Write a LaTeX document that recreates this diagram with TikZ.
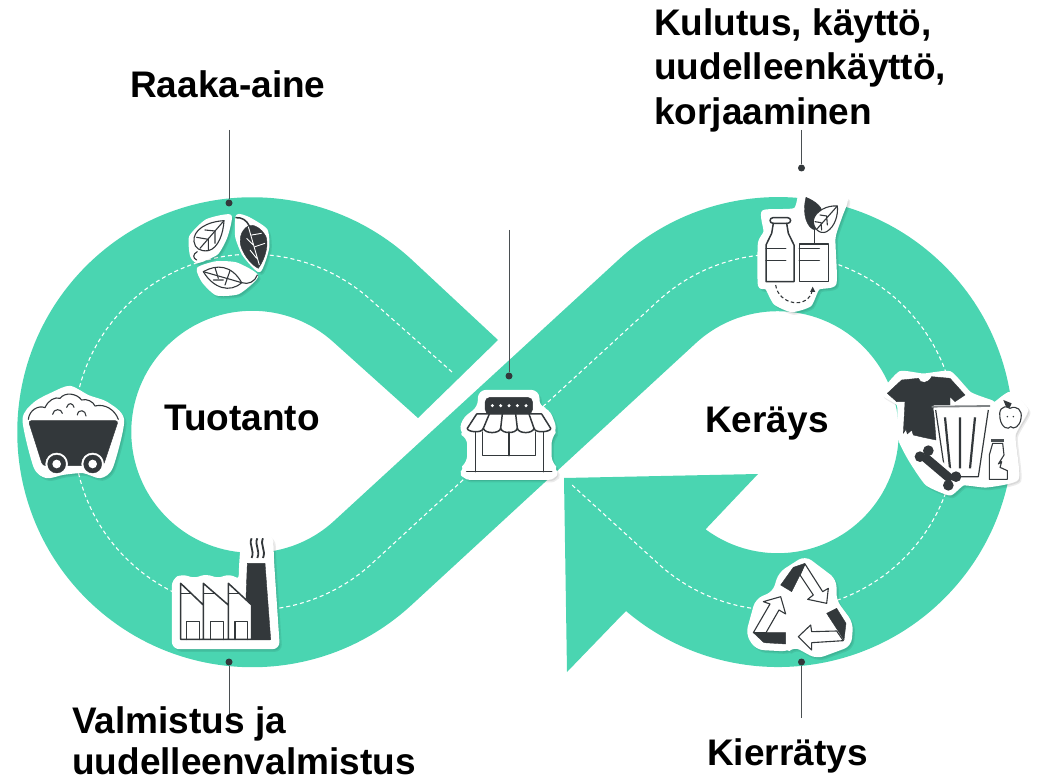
\documentclass[tikz,border=0pt]{standalone}
\usepackage{fontspec}
\setmainfont{Liberation Sans}
\definecolor{band}{HTML}{4AD5B1}
\definecolor{ink}{HTML}{33383B}
\definecolor{lead}{HTML}{4A4F52}
\tikzset{
  platest/.style={fill=white,draw=white,line width=3pt,line join=round},
  shadowst/.style={fill=black,draw=black,line width=3pt,line join=round,opacity=0.08},
  thinline/.style={draw=ink,line width=1.1pt,line join=round,line cap=round},
  midline/.style={draw=ink,line width=1.5pt,line join=round,line cap=round},
  darkfill/.style={fill=ink,draw=ink,line width=0.4pt,line join=round},
  label/.style={font=\bfseries\fontsize{37}{44}\selectfont,text=black,inner sep=0pt,anchor=base west},
  dotnode/.style={circle,fill=ink,draw=none,minimum size=7pt,inner sep=0pt},
  leader/.style={draw=lead,line width=1pt},
  centerdash/.style={draw=white,line width=1.1pt,dash pattern=on 4pt off 3pt}
}
\newcommand{\plated}[1]{\path[shadowst,shift={(7,8)}] #1; \path[platest] #1;}
\begin{document}
\begin{tikzpicture}[x=1pt,y=1pt,yscale=-1]
\useasboundingbox (0,0) rectangle (1039,783);
% band
\fill[band] (498,340) -- (411,259)
  arc[start angle=312.5,end angle=47.5,radius=235]
  -- (696,343)
  arc[start angle=227.5,end angle=486.9,radius=121]
  -- (703,532) -- (758,474) -- (564,478) -- (567,672) -- (623,614) -- (626,611)
  arc[start angle=130.4,end angle=-132.5,radius=235]
  -- (334,521)
  arc[start angle=47.5,end angle=312.5,radius=121]
  -- (418,418) -- cycle;
% dashed centre line
\draw[centerdash] (452,372) -- (372,301)
  arc[start angle=312.5,end angle=47.5,radius=178]
  -- (658,301)
  arc[start angle=227.5,end angle=492.5,radius=178]
  -- (572,485);
% ---- leaves
\begin{scope}[shift={(0,180)},scale=1/3]
\plated{plot[smooth cycle,tension=.35] coordinates{(690,108) (620,122) (572,170) (574,225) (592,245) (650,220) (678,170)}}
\plated{plot[smooth cycle,tension=.35] coordinates{(712,108) (745,115) (798,150) (803,205) (778,272) (732,225) (710,170)}}
\plated{plot[smooth cycle,tension=.35] coordinates{(595,266) (650,248) (710,252) (770,288) (715,338) (650,342) (610,305)}}
\draw[thinline] (672,122) .. controls (620,125) and (578,150) .. (582,185) .. controls (585,205) and (600,215) .. (625,212) .. controls (655,205) and (670,160) .. (672,122) -- cycle;
\draw[thinline] (672,122) -- (600,205) (592,215) .. controls (578,222) and (578,235) .. (590,240);
\draw[thinline] (645,153) -- (615,150) (625,178) -- (590,172) (645,153) -- (645,190) (625,178) -- (625,210);
\path[darkfill] (775,265) .. controls (800,230) and (805,190) .. (798,170) .. controls (785,145) and (760,130) .. (745,138) .. controls (722,150) and (715,180) .. (725,205) .. controls (735,230) and (755,255) .. (775,265) -- cycle;
\draw[midline] (708,113) .. controls (725,112) and (740,120) .. (748,138);
\draw[draw=white,line width=.9pt] (745,140) -- (778,255) (755,165) -- (785,160) (765,200) -- (795,190) (740,175) -- (760,195) (750,210) -- (770,235);
\draw[thinline] (610,275) .. controls (650,252) and (695,255) .. (725,308) .. controls (690,340) and (640,325) .. (610,275) -- cycle;
\draw[thinline] (610,275) -- (725,308) .. controls (745,315) and (765,305) .. (772,285);
\draw[thinline] (645,263) -- (655,295) (690,272) -- (675,315) (640,300) -- (670,300);
\end{scope}
% ---- mine cart
\begin{scope}[shift={(0,180)},scale=1/3]
\plated{plot[smooth cycle,tension=.45] coordinates{(72,720) (105,670) (160,640) (210,622) (265,650) (320,670) (368,720) (335,860) (300,890) (250,875) (190,880) (140,890) (105,860)}}
\path[darkfill,rounded corners=3pt] (85,722) -- (355,722) -- (310,857) -- (128,857) -- cycle;
\draw[thinline] (85,718) .. controls (88,690) and (115,675) .. (135,683) .. controls (145,660) and (165,650) .. (180,655) .. controls (195,635) and (230,640) .. (245,660) .. controls (260,655) and (280,665) .. (285,678) .. controls (315,670) and (345,690) .. (355,718);
\draw[thinline] (158,703) .. controls (160,685) and (185,685) .. (187,700) (200,682) .. controls (205,665) and (220,670) .. (222,682) (232,705) .. controls (235,685) and (258,690) .. (258,708);
\filldraw[fill=white,draw=white,line width=.5pt] (170,852) circle[radius=33] (278,852) circle[radius=33];
\filldraw[fill=ink,draw=ink] (170,852) circle[radius=27] (278,852) circle[radius=27];
\fill[white] (170,852) circle[radius=13] (278,852) circle[radius=13];
\end{scope}
% ---- factory
\begin{scope}[shift={(140,500)},scale=1/3]
\plated{[rounded corners=6pt] (100,443) -- (100,240) -- (128,226) -- (160,240) -- (200,226) -- (232,240) -- (270,226) -- (300,245) -- (302,190) -- (308,112) -- (335,96) -- (395,110) -- (398,190) -- (415,443) -- cycle}
\path[darkfill] (322,190) -- (375,190) -- (392,418) -- (335,418) -- (335,315) -- (318,295) -- cycle;
\draw[midline] (122,418) -- (390,418)
 (122,418) -- (122,250) -- (190,315) (190,418) -- (190,250) -- (265,315) (265,418) -- (265,250) -- (335,315) -- (335,418);
\draw[midline] (140,418) -- (140,365) -- (178,365) -- (178,418) (212,418) -- (212,365) -- (250,365) -- (250,418) (285,418) -- (285,365) -- (322,365) -- (322,418);
\draw[thinline] (122,280) -- (152,280) (190,280) -- (222,280) (265,280) -- (297,280);
\draw[draw=ink,line width=1.8pt] (335,115) .. controls (325,135) and (345,150) .. (335,174) (352,115) .. controls (342,135) and (362,150) .. (352,174) (369,115) .. controls (359,135) and (379,150) .. (369,174);
\end{scope}
% ---- store
\begin{scope}[shift={(400,320)},scale=1/3]
\plated{[rounded corners=7pt] (188,475) -- (186,445) -- (206,428) -- (206,352) -- (184,340) -- (188,300) -- (238,262) -- (238,214) -- (414,214) -- (414,262) -- (445,270) -- (468,330) -- (450,352) -- (450,428) -- (468,445) -- (466,475) -- cycle}
\path[darkfill,rounded corners=5pt] (255,232) rectangle (398,282);
\fill[white] (277,257) circle[radius=5] (302,257) circle[radius=5] (327,257) circle[radius=5] (352,257) circle[radius=5] (378,257) circle[radius=5];
\draw[midline] (230,282) -- (425,282) (230,282) -- (202,325) .. controls (200,335) and (245,342) .. (250,325) .. controls (255,342) and (298,342) .. (302,325) .. controls (306,342) and (348,342) .. (352,325) .. controls (356,342) and (398,342) .. (402,325) .. controls (406,342) and (455,335) .. (452,325) -- (425,282);
\draw[midline] (268,282) -- (250,325) (307,282) -- (302,325) (347,282) -- (352,325) (387,282) -- (402,325);
\draw[midline] (226,336) -- (226,455) (430,336) -- (430,455) (200,455) -- (455,455);
\draw[midline] (248,336) -- (248,407) -- (407,407) -- (407,336) (327,336) -- (327,407);
\end{scope}
% ---- bottles
\begin{scope}[shift={(720,170)},scale=1/3]
\plated{plot[smooth cycle,tension=.35] coordinates{(118,345) (118,220) (135,185) (130,125) (225,118) (245,55) (300,78) (378,85) (362,140) (342,205) (345,340) (295,355) (270,405) (215,422) (165,400) (140,355)}}
\draw[midline] (138,335) -- (222,335) -- (222,225) -- (205,190) -- (200,160) (138,335) -- (138,225) -- (155,190) -- (160,160);
\draw[midline,rounded corners=3pt] (150,160) rectangle (212,143);
\draw[midline] (138,235) -- (197,235) (138,272) -- (197,272);
\draw[midline] (238,222) rectangle (325,335);
\draw[midline] (238,235) -- (298,235) (238,272) -- (298,272) (283,222) -- (283,160);
\path[darkfill] (258,82) .. controls (290,95) and (310,115) .. (305,130) -- (285,180) .. controls (262,175) and (245,135) .. (258,82) -- cycle;
\path[fill=white,draw=ink,line width=1.1pt,line join=round] (352,108) .. controls (320,105) and (285,125) .. (280,150) .. controls (278,175) and (300,195) .. (320,185) .. controls (345,170) and (355,135) .. (352,108) -- cycle;
\draw[thinline] (352,108) -- (290,178) (320,138) -- (300,135) (320,138) -- (322,165) (303,158) -- (285,155) (303,158) -- (305,180);
\draw[draw=ink,line width=1.1pt,dash pattern=on 3.5pt off 2.5pt] (167,345) .. controls (175,405) and (265,420) .. (277,360);
\fill[ink] (278,350) -- (270,366) -- (286,366) -- cycle;
\end{scope}
% ---- trash cluster
\begin{scope}[shift={(870,360)},scale=1/3]
\plated{plot[smooth cycle,tension=.3] coordinates{(38,100) (90,38) (160,45) (240,38) (300,100) (365,125) (375,130) (420,100) (470,150) (432,225) (442,355) (350,378) (280,372) (240,402) (170,372) (120,300) (88,235) (85,135)}}
\path[darkfill] (52,100) -- (95,60) -- (145,55) .. controls (150,72) and (175,72) .. (185,50) -- (240,55) -- (285,105) -- (255,125) -- (240,110) -- (240,135) -- (190,135) -- (198,240) -- (160,232) -- (130,225) -- (125,210) -- (112,222) -- (108,208) -- (100,220) -- (105,125) -- (80,125) -- cycle;
\path[fill=white] (190,145) -- (358,145) -- (330,352) -- (225,352) -- cycle;
\draw[draw=ink,line width=1.2pt,line join=round] (197,150) -- (227,350) -- (325,350) -- (355,150);
\draw[draw=lead!70,line width=1.8pt] (185,140) -- (360,138);
\draw[draw=ink,line width=2.2pt] (225,172) -- (240,325) (270,172) -- (270,325) (315,172) -- (300,325);
\draw[draw=white,line width=16pt,line cap=round] (160,288) -- (245,360);
\draw[draw=ink,line width=9pt] (160,288) -- (245,360);
\fill[ink] (150,290) circle[radius=16] (175,272) circle[radius=16] (258,350) circle[radius=16] (235,376) circle[radius=16];
\path[fill=white,draw=ink,line width=1.1pt] (420,145) .. controls (395,130) and (385,155) .. (390,175) .. controls (395,205) and (415,210) .. (422,200) .. controls (430,210) and (450,200) .. (453,175) .. controls (458,150) and (440,135) .. (420,145) -- cycle;
\fill[ink] (400,120) -- (425,130) -- (418,145) -- (408,140) -- cycle;
\fill[ink] (412,170) circle[radius=2.5] (430,170) circle[radius=2.5];
\path[fill=white,draw=ink,line width=1.1pt,line join=round] (368,250) -- (358,285) -- (358,358) -- (412,358) -- (412,332) -- (390,322) -- (395,305) -- (385,312) -- (402,285) -- (398,250) -- cycle;
\path[fill=lead] (363,236) rectangle (403,246);
\end{scope}
% ---- recycling
\begin{scope}[shift={(540,460)},scale=1/3]
\plated{[rounded corners=7pt] (622,522) -- (650,420) -- (702,398) -- (720,340) -- (795,292) -- (885,360) -- (885,422) -- (935,490) -- (930,555) -- (830,592) -- (762,555) -- (745,570) -- (650,565) -- cycle}
\path[darkfill] (722,375) -- (760,322) -- (795,310) -- (780,345) -- (755,395) -- cycle;
\path[darkfill] (860,460) -- (890,445) -- (918,490) -- (912,540) -- cycle;
\path[darkfill] (640,518) -- (737,518) -- (737,552) -- (672,548) -- cycle;
\draw[thinline] (780,345) -- (795,312) -- (848,395) -- (865,385) -- (860,430) -- (803,418) -- (820,405) -- cycle;
\draw[thinline] (910,542) -- (815,548) -- (815,570) -- (775,530) -- (812,495) -- (815,515) -- (890,513) -- cycle;
\draw[thinline] (640,518) -- (690,432) -- (670,425) -- (722,410) -- (737,462) -- (717,450) -- (678,518) -- cycle;
\end{scope}
% ---- leaders
\node[dotnode] (d1) at (229,203) {};
\node[dotnode] (d2) at (509,376) {};
\node[dotnode] (d3) at (801.5,168) {};
\node[dotnode] (d4) at (229,662) {};
\node[dotnode] (d5) at (801.5,662) {};
\coordinate (e1) at (229,130);
\coordinate (e2) at (509,230);
\coordinate (e3) at (801.5,130);
\coordinate (e4) at (229,715);
\coordinate (e5) at (801.5,718);
\draw[leader] (e1) -- (d1);
\draw[leader] (e2) -- (d2);
\draw[leader] (e3) -- (d3);
\draw[leader] (e4) -- (d4);
\draw[leader] (e5) -- (d5);
% ---- labels
\node[label] (raaka) at (130,98) {Raaka-aine};
\node[label] (kul1) at (654,36) {Kulutus, käyttö,};
\node[label] (kul2) at (654,80) {uudelleenkäyttö,};
\node[label] (kul3) at (654,125) {korjaaminen};
\node[label] (tuot) at (164,431) {Tuotanto};
\node[label] (ker) at (705,433) {Keräys};
\node[label] (val1) at (72,733) {Valmistus ja};
\node[label] (val2) at (72,774) {uudelleenvalmistus};
\node[label] (kier) at (707,765) {Kierrätys};
\end{tikzpicture}
\end{document}
